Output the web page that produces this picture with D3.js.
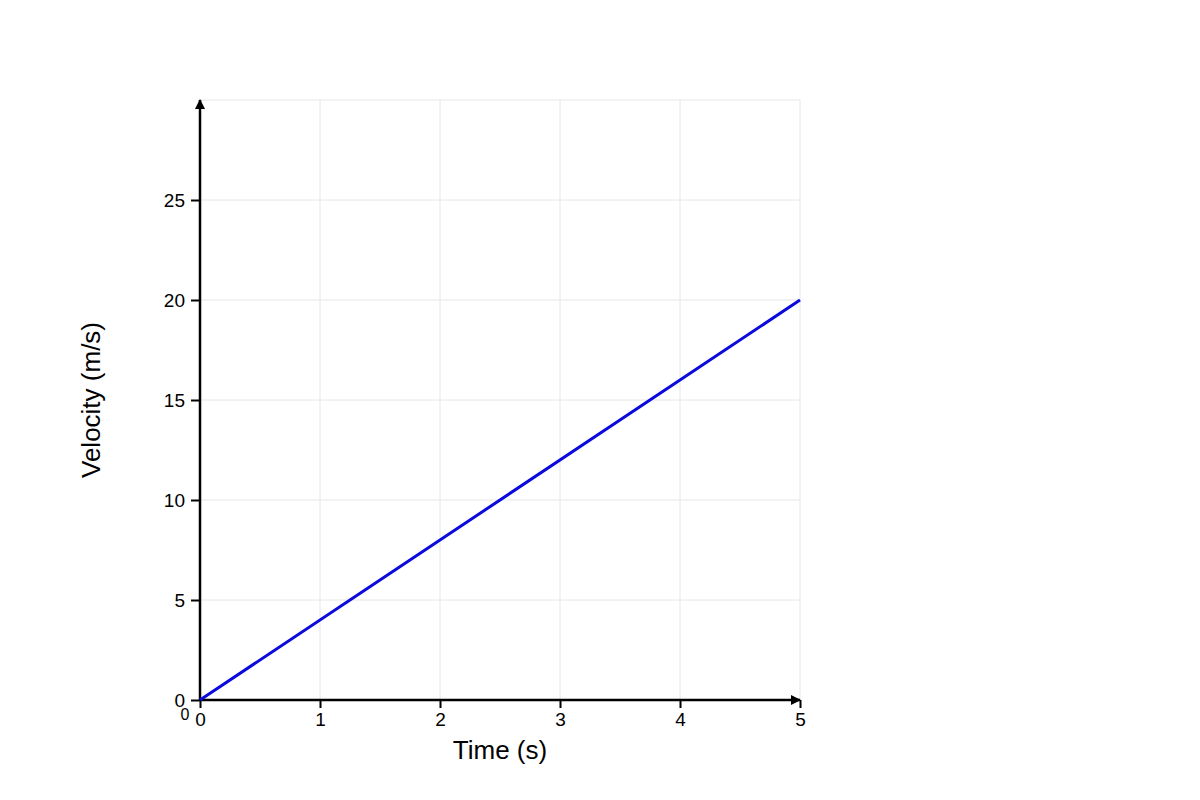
<!DOCTYPE html>
<html>
<head>
<meta charset="utf-8">
<script src="https://cdn.jsdelivr.net/npm/d3@7"></script>
<style>
  body { margin: 0; background: #fff; }
  svg text { font-family: "Liberation Sans", Arial, sans-serif; fill: #000; }
</style>
</head>
<body>
<div id="chart"></div>
<script>
// data
const times = [0, 5];
const velocities = [0, 20];
const xTicks = [0, 1, 2, 3, 4, 5];
const yTicks = [0, 5, 10, 15, 20, 25];

const W = 1200, H = 800;
const margin = {top: 100, right: 400, bottom: 100, left: 200};
const width = W - margin.left - margin.right;
const height = H - margin.top - margin.bottom;

const svg = d3.select('#chart').append('svg')
    .attr('width', W)
    .attr('height', H);

const defs = svg.append('defs');
defs.append('marker')
    .attr('id', 'arrow')
    .attr('viewBox', '0 0 10 10')
    .attr('refX', 9).attr('refY', 5)
    .attr('markerWidth', 4).attr('markerHeight', 4)
    .attr('orient', 'auto')
    .append('path')
    .attr('d', 'M0,0 L10,5 L0,10 Z')
    .attr('fill', '#000');

const g = svg.append('g')
    .attr('transform', `translate(${margin.left},${margin.top})`);

const x = d3.scaleLinear().domain([0, 5]).range([0, width]);
const y = d3.scaleLinear().domain([0, 30]).range([height, 0]);

// grid
g.append('g')
    .selectAll('line')
    .data(xTicks)
    .join('line')
    .attr('x1', d => x(d)).attr('x2', d => x(d))
    .attr('y1', 0).attr('y2', height)
    .attr('stroke', '#e6e6e6').attr('stroke-width', 1);

g.append('g')
    .selectAll('line')
    .data(yTicks.concat([30]))
    .join('line')
    .attr('x1', 0).attr('x2', width)
    .attr('y1', d => y(d)).attr('y2', d => y(d))
    .attr('stroke', '#e6e6e6').attr('stroke-width', 1);

// y axis
const yAxis = g.append('g')
    .call(d3.axisLeft(y).tickValues(yTicks).tickFormat(d3.format('d'))
        .tickSize(9).tickSizeOuter(0).tickPadding(6));
yAxis.select('.domain').remove();
yAxis.selectAll('.tick line').attr('stroke', '#000').attr('stroke-width', 2);
yAxis.selectAll('.tick text').attr('font-size', 19).style('font-size', '19px');

// x axis
const xAxis = g.append('g')
    .attr('transform', `translate(0,${height})`)
    .call(d3.axisBottom(x).tickValues(xTicks).tickFormat(d3.format('d'))
        .tickSize(8).tickSizeOuter(0).tickPadding(5));
xAxis.select('.domain').remove();
xAxis.selectAll('.tick line').attr('stroke', '#000').attr('stroke-width', 2);
xAxis.selectAll('.tick text').attr('font-size', 19).style('font-size', '19px');

// axis lines with arrows
g.append('line')
    .attr('x1', x(0)).attr('x2', x(0))
    .attr('y1', y(0)).attr('y2', y(30))
    .attr('stroke', '#000').attr('stroke-width', 2.5)
    .attr('marker-end', 'url(#arrow)');

g.append('line')
    .attr('x1', x(0)).attr('x2', x(5))
    .attr('y1', y(0)).attr('y2', y(0))
    .attr('stroke', '#000').attr('stroke-width', 2.5)
    .attr('marker-end', 'url(#arrow)');

// origin label
g.append('text')
    .attr('x', x(0) - 15)
    .attr('y', y(0) + 20)
    .attr('text-anchor', 'middle')
    .style('font-size', '16px')
    .text('0');

// data line
const line = d3.line()
    .x((d, i) => x(times[i]))
    .y(d => y(d));

g.append('path')
    .datum(velocities)
    .attr('d', line)
    .attr('fill', 'none')
    .attr('stroke', '#0a0adc')
    .attr('stroke-width', 3);

// titles
g.append('text')
    .attr('x', width / 2)
    .attr('y', height + 59)
    .attr('text-anchor', 'middle')
    .style('font-size', '26px')
    .text('Time (s)');

g.append('text')
    .attr('transform', 'rotate(-90)')
    .attr('x', -height / 2)
    .attr('y', -100)
    .attr('text-anchor', 'middle')
    .style('font-size', '26px')
    .text('Velocity (m/s)');
</script>
</body>
</html>
